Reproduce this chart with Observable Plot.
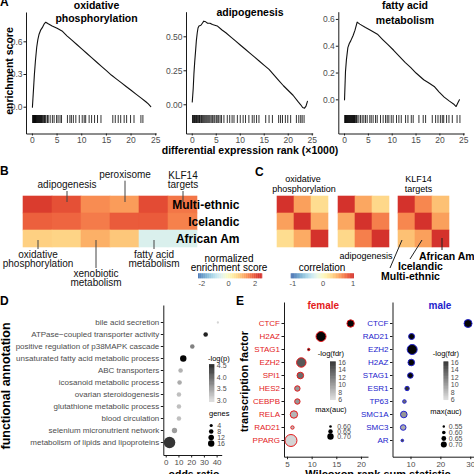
<!DOCTYPE html>
<html><head><meta charset="utf-8">
<script src="https://cdn.jsdelivr.net/npm/d3@7"></script>
<script src="https://cdn.jsdelivr.net/npm/@observablehq/plot@0.6"></script>
<style>
html,body{margin:0;padding:0;background:#fff;}
#fig{position:relative;width:474px;height:474px;overflow:hidden;background:#fff;}
#fig svg{position:absolute;left:0;top:0;}
</style></head><body><div id="fig"></div>
<script>
// ================= DATA =================
// Panel A: running enrichment score (rank in thousands, score)
const rankTicksA = [0, 5, 10, 15, 20, 25];
const esOxphos = [[0,0],[0.2,0.15],[0.4,0.3],[0.6,0.42],[0.87,0.55],[1.1,0.62],[1.35,0.67],[1.7,0.71],[2.0,0.73],[2.4,0.765],[2.7,0.78],[3.2,0.765],[4,0.745],[5,0.725],[6,0.70],[7,0.655],[8,0.615],[9,0.575],[10,0.535],[11,0.495],[12,0.455],[13,0.415],[14,0.375],[15,0.335],[16,0.295],[17,0.26],[18,0.225],[19,0.19],[20,0.155],[21,0.12],[22,0.085],[23,0.05],[23.5,0.03],[24,0.005]];
const esAdipo = [[0,0.02],[0.2,0.12],[0.35,0.23],[0.5,0.31],[0.7,0.4],[0.85,0.47],[1.04,0.53],[1.2,0.565],[1.4,0.58],[1.8,0.585],[2.1,0.6],[2.4,0.615],[2.8,0.61],[3.2,0.6],[3.7,0.6],[4.2,0.59],[5.2,0.58],[6.2,0.55],[7,0.53],[8,0.5],[9,0.47],[10,0.44],[11,0.41],[12,0.38],[13,0.35],[14,0.32],[15,0.29],[16,0.26],[17,0.22],[18,0.18],[19,0.14],[20,0.105],[21,0.07],[22,0.025],[22.6,0.0],[23,-0.02],[23.4,-0.025],[23.7,-0.01],[24,0.025]];
const esFatty = [[0,0],[0.2,0.21],[0.4,0.3],[0.7,0.39],[1.0,0.42],[1.3,0.44],[1.8,0.48],[2.2,0.52],[2.65,0.58],[3.2,0.565],[4.4,0.54],[5.45,0.52],[6.9,0.49],[8,0.45],[9,0.415],[10.3,0.37],[11.5,0.325],[12.7,0.28],[13.9,0.24],[15,0.2],[16.6,0.15],[17.7,0.125],[18.8,0.1],[19.8,0.06],[20.9,0.02],[22,-0.01],[23,-0.035],[23.4,-0.05],[23.8,-0.02],[24.1,0.0]];
const rugOxphos = [0.05,0.12,0.2,0.28,0.35,0.42,0.5,0.58,0.65,0.72,0.8,0.9,1.0,1.1,1.2,1.3,1.4,1.5,1.6,1.7,1.8,1.9,2.0,2.15,2.3,2.45,2.6,2.75,3.05,3.2,3.6,4.05,4.4,4.9,5.2,5.6,5.9,7.1,7.6,7.9,8.3,8.8,9.5,10.1,10.5,10.8,11.5,12.0,12.6,13.2,13.9,16.3,16.8,17.4,17.9,18.6,19.1,19.9,20.6,22.0,22.4];
const rugAdipo = [0.05,0.15,0.3,0.4,0.5,0.65,0.8,0.9,1.05,1.2,1.35,1.5,1.6,1.8,1.95,2.1,2.3,2.5,2.7,2.9,3.1,3.3,3.5,3.7,3.95,4.2,4.5,4.7,5.0,5.2,5.5,5.8,6.1,6.6,7.3,7.8,8.3,8.7,9.4,10.0,10.6,11.1,11.8,12.5,12.9,13.4,13.9,15.3,16.0,16.7,18.0,18.4,18.8,19.4,19.9,20.5,21.7,22.2,22.6,22.9,23.3];
const rugFatty = [0.05,0.12,0.2,0.3,0.4,0.5,0.6,0.7,0.8,0.9,1.0,1.1,1.2,1.3,1.4,1.5,1.6,1.7,1.8,1.9,2.0,2.1,2.2,2.35,2.5,2.65,3.0,3.35,3.7,4.05,4.4,4.75,5.3,5.6,6.0,6.5,6.85,7.55,8.1,8.6,8.95,9.3,9.8,10.2,10.9,11.4,11.9,12.8,13.3,14.0,14.4,15.6,16.5,17.0,18.4,19.1,19.6,20.1,20.5,20.8,21.4,21.9,22.6,23.6,24.2];
const yTicksOxphos = [0, 0.3, 0.6];
const yTicksAdipo = [0, 0.25, 0.5];
const yTicksFatty = [0, 0.2, 0.4, 0.6];

// Panel B: normalized enrichment scores
const cohorts = ["Multi-ethnic", "Icelandic", "African Am"];
const pathwaysB = ["oxidative phosphorylation", "adipogenesis", "xenobiotic metabolism", "peroxisome", "fatty acid metabolism", "KLF14 targets"];
const nesMultiEthnic = [2.2, 2.0, 1.45, 1.3, 2.05, 1.65];
const nesIcelandic = [1.85, 1.8, 1.6, 1.9, 1.9, 1.55];
const nesAfricanAm = [0.75, 0.7, 1.1, 0.85, -0.6, -0.6];
const nesLegendTicks = [-2, 0, 2];

// Panel C: correlation between cohorts
const corrOxphos = [[1, 0.55, 0.25], [0.55, 1, 0.5], [0.25, 0.5, 1]];
const corrAdipo = [[1, 0.52, 0.28], [0.52, 1, 0.68], [0.28, 0.68, 1]];
const corrKLF14 = [[1, 0.65, 0.4], [0.65, 1, 0.55], [0.4, 0.55, 1]];
const corrLegendTicks = [-1, 0, 1];

// Panel D: functional annotation enrichment
const termsD = ["bile acid secretion", "ATPase\u2212coupled transporter activity", "positive regulation of p38MAPK cascade", "unsaturated fatty acid metabolic process", "ABC transporters", "icosanoid metabolic process", "ovarian steroidogenesis", "glutathione metabolic process", "blood circulation", "selenium micronutrient network", "metabolism of lipids and lipoproteins"];
const oddsD = [40.6, 31, 20.5, 13.4, 11.3, 10.5, 10, 10, 10, 6.5, 2.6];
const genesD = [2, 8, 8, 16, 8, 8, 8, 8, 8, 11, 52];
const logpD = [3.0, 4.3, 3.6, 4.5, 3.25, 3.3, 3.15, 3.15, 3.15, 3.4, 4.15];
const oddsTicks = [0, 10, 20, 30, 40];
const logpTicks = [3.0, 3.5, 4.0, 4.5];
const genesLegend = [4, 8, 12, 16];

// Panel E: transcription factors
const tfFemale = ["CTCF", "H2AZ", "STAG1", "EZH2", "SPI1", "HES2", "CEBPB", "RELA", "RAD21", "PPARG"];
const statFemale = [17.8, 11.8, 9.3, 7.8, 7.6, 7.0, 7.0, 6.3, 6.0, 5.7];
const aucFemale = [0.725, 0.795, 0.595, 0.78, 0.705, 0.674, 0.674, 0.726, 0.62, 0.847];
const fdrFemale = [16, 16, 15, 12, 11, 9, 9, 7.5, 7, 6];
const tfMale = ["CTCF", "RAD21", "EZH2", "H2AZ", "STAG1", "ESR1", "TP63", "SMC1A", "SMC3", "AR"];
const statMale = [29.1, 10.2, 10.4, 10.1, 9.8, 8.7, 7.8, 7.6, 7.4, 7.1];
const aucMale = [0.783, 0.70, 0.867, 0.725, 0.683, 0.633, 0.60, 0.725, 0.683, 0.558];
const fdrMale = [16, 16, 16, 16, 16, 14, 11, 9, 8, 13];
const statTicksFemale = [5, 10, 15, 20];
const statTicksMale = [10, 20, 30];
const fdrTicks = [6, 8, 10, 12, 14, 16];
const aucLegendFemale = [0.60, 0.65, 0.70];
const aucLegendMale = [0.55, 0.60, 0.65, 0.70];

// ================= HELPERS =================
const fig = document.getElementById("fig");
const W = 474, H = 474;
const FONT = '"Liberation Sans", Arial, Helvetica, sans-serif';
const GREY = "#4d4d4d";
const RED = "#e31a1c", BLUE = "#2222cc";
const greyRange = ["#d4d4d4", "#050505"];
const rdylbu = t => d3.interpolateRdYlBu(0.9 - 0.8 * t);
function box(x0, x1, y0, y1) {
  return {width: W, height: H, marginLeft: x0, marginRight: W - x1, marginTop: y0, marginBottom: H - y1};
}
function lAxes(x0, x1, y0, y1) {
  const p = (x1 - x0) + (y1 - y0);
  return Plot.frame({stroke: "#1a1a1a", strokeWidth: 1, strokeDasharray: `0,${p},${p},0`});
}
function draw(opts, fs = 8) {
  const svg = Plot.plot({...opts, style: {background: "transparent", overflow: "visible", fontFamily: FONT, fontSize: fs + "px", color: "#1a1a1a"}});
  svg.style.position = "absolute"; svg.style.left = "0px"; svg.style.top = "0px";
  fig.appendChild(svg);
  return svg;
}

// ================= PANEL A =================
const panelsA = [
  {curve: esOxphos, rug: rugOxphos, ticks: yTicksOxphos, fmt: ".1f", fr: [26, 156.2, 12, 133.5], ydom: [-0.246, 0.869]},
  {curve: esAdipo, rug: rugAdipo, ticks: yTicksAdipo, fmt: ".2f", fr: [186, 312.7, 11.7, 133.5], ydom: [-0.215, 0.681]},
  {curve: esFatty, rug: rugFatty, ticks: yTicksFatty, fmt: ".1f", fr: [338.3, 464.2, 11.7, 133.5], ydom: [-0.255, 0.654]}
];
for (const P of panelsA) {
  const [x0, x1, y0, y1] = P.fr;
  draw({...box(x0, x1, y0, y1),
    x: {domain: [-1.2, 25.2]}, y: {domain: P.ydom},
    marks: [
      lAxes(x0, x1, y0, y1),
      Plot.axisX({ticks: rankTicksA, tickSize: 2, tickPadding: 0.5, fill: GREY, label: null}),
      Plot.axisY({ticks: P.ticks, tickFormat: d3.format(P.fmt), tickSize: 2.5, tickPadding: 1.5, fill: GREY, label: null}),
      Plot.ruleX(P.rug, {x: d => d, insetTop: 115 - y0, insetBottom: y1 - 123, stroke: "#000", strokeWidth: 0.8}),
      Plot.line(P.curve, {x: d => d[0], y: d => d[1], stroke: "#111", strokeWidth: 1.1})
    ]}, 8.5);
}

// ================= PANEL B =================
const nesB = [nesMultiEthnic, nesIcelandic, nesAfricanAm];
const cellsB = cohorts.flatMap((c, i) => pathwaysB.map((p, j) => ({c, p, v: nesB[i][j]})));
const bTop1 = [{p: "adipogenesis", t: "adipogenesis"}, {p: "KLF14 targets", t: "KLF14\ntargets"}];
const bTop2 = [{p: "peroxisome", t: "peroxisome"}];
const bBot1 = [{p: "oxidative phosphorylation", t: "oxidative\nphosphorylation"}, {p: "fatty acid metabolism", t: "fatty acid\nmetabolism"}];
const bBot2 = [{p: "xenobiotic metabolism", t: "xenobiotic\nmetabolism"}];
draw({...box(22.7, 196.7, 195, 247.3),
  x: {domain: pathwaysB, padding: 0, axis: null},
  y: {domain: cohorts, padding: 0, axis: null},
  color: {type: "linear", domain: [-2.3, 2.3], interpolate: rdylbu, clamp: true},
  marks: [
    Plot.cell(cellsB, {x: "p", y: "c", fill: "v", stroke: "v", strokeWidth: 0.6, inset: 0}),
    Plot.text(cohorts, {y: d => d, text: d => d, frameAnchor: "right", dx: 42.3, fontWeight: "bold", fontSize: 12, fill: "#000"}),
    Plot.ruleX(bTop1, {x: "p", insetTop: -4, insetBottom: 45.3, stroke: "#444"}),
    Plot.ruleX(bTop2, {x: "p", insetTop: -14.3, insetBottom: 45.3, stroke: "#444"}),
    Plot.ruleX(bBot1, {x: "p", insetTop: 45, insetBottom: -1.7, stroke: "#444"}),
    Plot.ruleX(bBot2, {x: "p", insetTop: 45, insetBottom: -20.7, stroke: "#444"}),
    Plot.text(bTop1, {x: "p", text: "t", frameAnchor: "top", lineAnchor: "bottom", dy: -7.4, fontSize: 10, lineHeight: 0.9, fill: "#111"}),
    Plot.text(bTop2, {x: "p", text: "t", frameAnchor: "top", lineAnchor: "bottom", dy: -17.4, fontSize: 10, lineHeight: 0.9, fill: "#111"}),
    Plot.text(bBot1, {x: "p", text: "t", frameAnchor: "bottom", lineAnchor: "top", dy: 3.9, fontSize: 10, lineHeight: 0.88, fill: "#111"}),
    Plot.text(bBot2, {x: "p", text: "t", frameAnchor: "bottom", lineAnchor: "top", dy: 22.2, fontSize: 10, lineHeight: 0.92, fill: "#111"})
  ]});
// B legend bar
const nesStops = d3.range(-2.25, 2.55, 0.05);
draw({...box(198, 262, 273.3, 278.3),
  x: {domain: [-2.25, 2.55]},
  color: {type: "linear", domain: [-2.3, 2.3], interpolate: rdylbu, clamp: true},
  marks: [
    Plot.rect(nesStops, {x1: d => d, x2: d => d + 0.07, fill: d => d}),
    Plot.axisX({ticks: nesLegendTicks, tickFormat: d => String(d), tickSize: 0, tickPadding: 1.5, fill: GREY, label: null})
  ]}, 7.5);

// ================= PANEL C =================
const corrSets = [corrOxphos, corrAdipo, corrKLF14];
const cFrames = [[276, 329], [336.5, 389.5], [397, 450]];
corrSets.forEach((M, k) => {
  const cells = cohorts.flatMap((r, i) => cohorts.map((c, j) => ({r, c, v: M[i][j]})));
  const [x0, x1] = cFrames[k];
  draw({...box(x0, x1, 195, 247.3),
    x: {domain: cohorts, padding: 0, axis: null},
    y: {domain: cohorts, padding: 0, axis: null},
    color: {type: "linear", domain: [-1, 1], interpolate: rdylbu, clamp: true},
    marks: [Plot.cell(cells, {x: "c", y: "r", fill: "v", stroke: "v", strokeWidth: 0.6, inset: 0})]
  });
});
const corrStops = d3.range(-1.05, 1.02, 0.02);
draw({...box(290.7, 353.3, 273.3, 278.3),
  x: {domain: [-1.05, 1.02]},
  color: {type: "linear", domain: [-1, 1], interpolate: rdylbu, clamp: true},
  marks: [
    Plot.rect(corrStops, {x1: d => d, x2: d => d + 0.03, fill: d => d}),
    Plot.axisX({ticks: corrLegendTicks, tickFormat: d => String(d), tickSize: 0, tickPadding: 1.5, fill: GREY, label: null})
  ]}, 7.5);

// ================= PANEL D =================
const rD = {type: "sqrt", domain: [0, 16], range: [0, 3.2]};
const colD = {type: "linear", domain: [3, 4.5], range: greyRange, clamp: true};
draw({...box(163.3, 221.7, 305, 455),
  x: {domain: [-1.9, 44]},
  y: {type: "point", domain: termsD, range: [314, 449.3]},
  r: rD, color: colD,
  marks: [
    lAxes(163.3, 221.7, 305, 455),
    Plot.axisX({ticks: oddsTicks, tickSize: 2.5, tickPadding: 1.5, fill: GREY, label: null}),
    Plot.axisY({tickSize: 2.5, tickPadding: 2, fill: GREY, label: null}),
    Plot.dot(termsD, {x: (d, i) => oddsD[i], y: d => d, r: (d, i) => genesD[i], fill: (d, i) => logpD[i], stroke: null})
  ]}, 8);
const logpStops = d3.range(2.91, 4.54, 0.02);
draw({...box(209, 214.3, 364.5, 402),
  y: {domain: [2.91, 4.54]}, color: colD,
  marks: [
    Plot.rect(logpStops, {y1: d => d, y2: d => d + 0.025, fill: d => d}),
    Plot.axisY({anchor: "right", ticks: logpTicks, tickFormat: d3.format(".1f"), tickSize: 0, tickPadding: 2, fill: GREY, label: null})
  ]}, 7);
draw({...box(210.7, 230, 418, 450),
  y: {type: "point", domain: genesLegend, range: [422, 446.5], axis: null}, r: rD,
  marks: [
    Plot.dot(genesLegend, {y: d => d, r: d => d, fill: "#000", frameAnchor: "left"}),
    Plot.text(genesLegend, {y: d => d, text: d => String(d), frameAnchor: "left", dx: 6, textAnchor: "start", fill: GREY})
  ]}, 7);

// ================= PANEL E =================
const colE = {type: "linear", domain: [6, 16], range: greyRange, clamp: true};
function drawTF(fr, xdom, xticks, tfs, stats, aucs, fdrs, col, rS) {
  const [x0, x1, y0, y1] = fr;
  draw({...box(x0, x1, y0, y1),
    x: {domain: xdom}, y: {type: "point", domain: tfs, range: [314.3, 449]},
    r: rS, color: colE,
    marks: [
      lAxes(x0, x1, y0, y1),
      Plot.axisX({ticks: xticks, tickSize: 2.5, tickPadding: 1.5, fill: GREY, label: null}),
      Plot.axisY({tickSize: 2.5, tickPadding: 2, fill: col, label: null}),
      Plot.dot(tfs, {x: (d, i) => stats[i], y: d => d, r: (d, i) => aucs[i], fill: (d, i) => fdrs[i], stroke: col, strokeWidth: 1})
    ]}, 8);
}
const rFemale = {type: "linear", domain: [0.6, 0.7], range: [1.3, 3.2]};
const rMale = {type: "linear", domain: [0.55, 0.70], range: [1.2, 3.0]};
drawTF([284, 368, 302, 456.7], [4.39, 21.43], statTicksFemale, tfFemale, statFemale, aucFemale, fdrFemale, RED, rFemale);
drawTF([392.5, 474, 302, 456.7], [3.98, 31.26], statTicksMale, tfMale, statMale, aucMale, fdrMale, BLUE, rMale);
const fdrStops = d3.range(5.8, 16.2, 0.1);
for (const [x0, x1] of [[330, 335.7], [443.5, 448.3]]) {
  draw({...box(x0, x1, 361.7, 400),
    y: {domain: [5.81, 16.16]}, color: colE,
    marks: [
      Plot.rect(fdrStops, {y1: d => d, y2: d => d + 0.12, fill: d => d}),
      Plot.axisY({anchor: "right", ticks: fdrTicks, tickSize: 0, tickPadding: 2, fill: GREY, label: null})
    ]}, 7);
}
draw({...box(330, 360, 418, 445),
  y: {type: "point", domain: aucLegendFemale, range: [422.3, 439], axis: null}, r: rFemale,
  marks: [
    Plot.dot(aucLegendFemale, {y: d => d, r: d => d, fill: "#000", frameAnchor: "left"}),
    Plot.text(aucLegendFemale, {y: d => d, text: d => d.toFixed(2), frameAnchor: "left", dx: 6.7, textAnchor: "start", fill: GREY})
  ]}, 7);
draw({...box(443.3, 472, 418, 450),
  y: {type: "point", domain: aucLegendMale, range: [422.3, 446.7], axis: null}, r: rMale,
  marks: [
    Plot.dot(aucLegendMale, {y: d => d, r: d => d, fill: "#000", frameAnchor: "left"}),
    Plot.text(aucLegendMale, {y: d => d, text: d => d.toFixed(2), frameAnchor: "left", dx: 5, textAnchor: "start", fill: GREY})
  ]}, 7);

// ================= TEXT OVERLAY =================
const ov = d3.select(fig).append("svg").attr("width", W).attr("height", H)
  .style("overflow", "visible").attr("font-family", FONT);
function T(x, y, s, o = {}) {
  const t = ov.append("text").attr("x", x).attr("y", y).text(s)
    .attr("font-size", o.size || 10).attr("font-weight", o.bold ? "bold" : "normal")
    .attr("text-anchor", o.anchor || "middle").attr("fill", o.fill || "#000");
  if (o.rot) t.attr("transform", `rotate(${o.rot},${x},${y})`);
  return t;
}
function L(x1, y1, x2, y2) {
  ov.append("line").attr("x1", x1).attr("y1", y1).attr("x2", x2).attr("y2", y2).attr("stroke", "#222").attr("stroke-width", 1);
}
// panel letters
T(0, 6, "A", {bold: true, size: 12, anchor: "start"});
T(0, 175, "B", {bold: true, size: 12, anchor: "start"});
T(255, 175.5, "C", {bold: true, size: 12, anchor: "start"});
T(0, 305, "D", {bold: true, size: 12, anchor: "start"});
T(236, 305, "E", {bold: true, size: 12, anchor: "start"});
// A titles
T(96.5, 8.8, "oxidative", {bold: true, size: 10.5});
T(96.5, 22, "phosphorylation", {bold: true, size: 10.5});
T(250, 16.3, "adipogenesis", {bold: true, size: 10.5});
T(405, 8.5, "fatty acid", {bold: true, size: 10.5});
T(405, 24.3, "metabolism", {bold: true, size: 10.5});
T(12.5, 71, "enrichment score", {bold: true, size: 10.5, rot: -90});
T(250, 153.5, "differential expression rank (\u00d71000)", {bold: true, size: 10.5});
// B legend title
T(229, 261.5, "normalized", {size: 10});
T(229, 270.5, "enrichment score", {size: 10});
// C labels
T(303, 181.5, "oxidative", {size: 9});
T(304, 191.5, "phosphorylation", {size: 9});
T(418.5, 181.5, "KLF14", {size: 9});
T(418.5, 191.5, "targets", {size: 9});
T(366, 258.5, "adipogenesis", {size: 9});
L(442, 238, 442, 250);
L(422, 240, 410, 259);
L(402, 240, 390, 268);
T(419, 259.5, "African Am", {bold: true, size: 10.5, anchor: "start"});
T(398, 270, "Icelandic", {bold: true, size: 10.5, anchor: "start"});
T(381, 279.5, "Multi-ethnic", {bold: true, size: 10.5, anchor: "start"});
T(322, 270.5, "correlation", {size: 10});
// D
T(9.5, 386, "functional annotation", {bold: true, size: 12.5, rot: -90});
T(208, 360.5, "-log(p)", {size: 7.5, anchor: "start"});
T(209, 416, "genes", {size: 7.5, anchor: "start"});
T(194, 478.3, "odds ratio", {bold: true, size: 10.5});
// E
T(247.5, 381.5, "transcription factor", {bold: true, size: 11, rot: -90});
T(323.3, 309, "female", {bold: true, size: 10, fill: RED});
T(440, 309, "male", {bold: true, size: 10, fill: BLUE});
T(331, 355.5, "-log(fdr)", {size: 7.5});
T(446, 356, "-log(fdr)", {size: 7.5});
T(331, 412, "max(auc)", {size: 7.5});
T(446, 414, "max(auc)", {size: 7.5});
T(378, 478.3, "Wilcoxon rank sum statistic", {bold: true, size: 11});
</script></body></html>
